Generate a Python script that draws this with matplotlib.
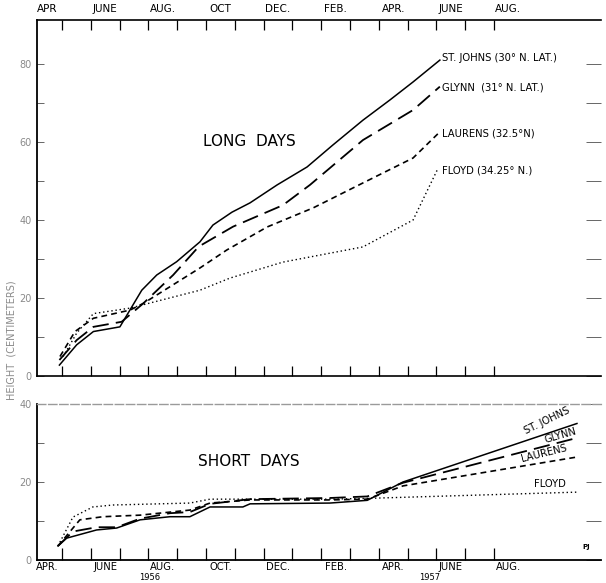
import matplotlib
matplotlib.use('Agg')
import matplotlib.pyplot as plt
from matplotlib.ticker import FixedLocator, NullFormatter, FixedFormatter

# x values are months since 1 April 1956
month_labels = ['APR.', 'JUNE', 'AUG.', 'OCT.', 'DEC.', 'FEB.', 'APR.', 'JUNE', 'AUG.']
top_labels = ['APR', 'JUNE', 'AUG.', 'OCT', 'DEC.', 'FEB.', 'APR.', 'JUNE', 'AUG.']
years = ['1956', '1957']

# ---- LONG DAYS (height, cm) ----
ld_stjohns_x = [0.91, 1.51, 2.09, 3.01, 3.77, 4.29, 4.98, 5.79, 6.24, 6.90, 7.53, 8.47, 9.51, 10.40, 11.45, 12.39, 13.19, 14.12]
ld_stjohns_y = [2.8, 8.0, 11.4, 12.6, 22.0, 25.9, 29.3, 34.4, 38.7, 42.0, 44.4, 49.0, 53.6, 59.2, 65.6, 70.8, 75.4, 81.0]
ld_glynn_x = [0.91, 1.51, 2.09, 3.07, 3.82, 4.86, 5.75, 6.94, 8.67, 9.61, 11.45, 13.19, 14.12]
ld_glynn_y = [4.1, 9.2, 12.6, 13.9, 18.6, 25.9, 33.2, 38.3, 43.8, 49.0, 60.5, 68.2, 74.2]
ld_laurens_x = [0.93, 1.45, 2.09, 3.36, 3.82, 5.79, 6.72, 8.12, 9.72, 11.45, 13.19, 14.12]
ld_laurens_y = [5.0, 11.4, 14.8, 16.9, 18.6, 27.7, 32.3, 38.2, 43.1, 49.5, 55.9, 62.6]
ld_floyd_x = [1.04, 1.51, 2.09, 3.36, 5.79, 6.83, 8.67, 11.45, 13.19, 14.06]
ld_floyd_y = [5.0, 11.0, 16.0, 17.4, 22.0, 25.1, 29.2, 33.1, 40.0, 53.3]

# ---- SHORT DAYS (height, cm) ----
sd_stjohns_x = [0.86, 1.16, 2.20, 2.90, 3.71, 4.75, 5.44, 6.14, 7.28, 7.53, 10.30, 11.60, 12.84, 18.88]
sd_stjohns_y = [3.6, 5.6, 7.7, 8.2, 10.3, 11.1, 11.1, 13.6, 13.6, 14.4, 14.6, 15.3, 20.0, 35.0]
sd_glynn_x = [0.86, 1.38, 2.20, 2.90, 3.71, 4.75, 5.44, 6.14, 7.53, 10.30, 11.60, 12.84, 18.88]
sd_glynn_y = [3.6, 7.3, 8.4, 8.4, 10.6, 12.0, 12.3, 14.4, 15.6, 15.9, 16.3, 19.8, 31.3]
sd_laurens_x = [0.86, 1.62, 2.42, 3.71, 5.44, 6.14, 7.53, 10.30, 11.60, 12.84, 18.88]
sd_laurens_y = [3.6, 10.3, 11.1, 11.5, 12.8, 14.6, 15.4, 15.4, 15.6, 19.0, 26.4]
sd_floyd_x = [0.86, 1.38, 2.07, 2.77, 5.44, 6.14, 7.42, 10.30, 11.60, 18.88]
sd_floyd_y = [3.6, 11.0, 13.6, 14.1, 14.6, 15.6, 15.6, 15.6, 15.8, 17.4]

W, H = 606, 583
fig = plt.figure(figsize=(W / 100, H / 100), dpi=100)
fig.patch.set_facecolor('white')

L, R = 37, 601
m_per_px = 1 / 28.8
x0 = (L - 33.2) * m_per_px
x1 = (R - 33.2) * m_per_px

ax1 = fig.add_axes([L / W, 1 - 376 / H, (R - L) / W, (376 - 20) / H])
ax2 = fig.add_axes([L / W, 1 - 560 / H, (R - L) / W, (560 - 404) / H])

grey = '#8a8a8a'
styles = {
    'stjohns': dict(color='black', lw=1.1, ls='-'),
    'glynn': dict(color='black', lw=1.3, ls=(0, (9, 4))),
    'laurens': dict(color='black', lw=1.2, ls=(0, (3.5, 2.5))),
    'floyd': dict(color='black', lw=1.0, ls=(0, (1, 2))),
}

ax1.plot(ld_stjohns_x, ld_stjohns_y, **styles['stjohns'])
ax1.plot(ld_glynn_x, ld_glynn_y, **styles['glynn'])
ax1.plot(ld_laurens_x, ld_laurens_y, **styles['laurens'])
ax1.plot(ld_floyd_x, ld_floyd_y, **styles['floyd'])

ax2.plot(sd_stjohns_x, sd_stjohns_y, **styles['stjohns'])
ax2.plot(sd_glynn_x, sd_glynn_y, **styles['glynn'])
ax2.plot(sd_laurens_x, sd_laurens_y, **styles['laurens'])
ax2.plot(sd_floyd_x, sd_floyd_y, **styles['floyd'])

ax1.set_xlim(x0, x1)
ax2.set_xlim(x0, x1)
ax1.set_ylim(0, (376 - 20) / 3.9)
ax2.set_ylim(0, 40)

month_ticks = list(range(1, 17))
mid_ticks = [0.5 + 2 * i for i in range(9)]

for ax in (ax1, ax2):
    ax.spines['right'].set_visible(False)
    ax.spines['left'].set_linewidth(1.3)
    ax.xaxis.set_major_locator(FixedLocator(month_ticks))
    ax.xaxis.set_major_formatter(NullFormatter())
    ax.xaxis.set_minor_locator(FixedLocator(mid_ticks))

# upper panel x ticks
ax1.spines['top'].set_linewidth(1.2)
ax1.spines['bottom'].set_linewidth(1.2)
ax1.tick_params(axis='x', which='major', top=True, bottom=True, direction='in',
                length=7, width=0.9, labelbottom=False, labeltop=False)
ax1.tick_params(axis='x', which='minor', top=True, bottom=False, length=0,
                labeltop=True, labelbottom=False, pad=4, labelsize=7.5)
ax1.xaxis.set_minor_formatter(FixedFormatter(top_labels))

# lower panel x ticks
ax2.spines['top'].set_color('#9a9a9a')
ax2.spines['top'].set_linestyle((0, (6, 2)))
ax2.spines['top'].set_linewidth(1.0)
ax2.spines['bottom'].set_linewidth(1.3)
ax2.tick_params(axis='x', which='major', top=False, bottom=True, direction='in',
                length=9, width=0.9, labelbottom=False)
ax2.tick_params(axis='x', which='minor', top=False, bottom=True, length=0,
                labelbottom=True, pad=1.5, labelsize=7.2)
ax2.xaxis.set_minor_formatter(FixedFormatter(month_labels))

# y ticks
ax1.set_yticks([0, 20, 40, 60, 80])
ax1.set_yticks([10, 30, 50, 70], minor=True)
ax2.set_yticks([0, 20, 40])
ax2.set_yticks([10, 30], minor=True)
for ax in (ax1, ax2):
    ax.tick_params(axis='y', which='both', left=True, right=True, direction='in',
                   length=5, width=0.7, color='#666666', labelsize=7,
                   labelcolor=grey, pad=4)
    for t in ax.yaxis.get_major_ticks() + ax.yaxis.get_minor_ticks():
        t.tick1line.set_markersize(5)
        t.tick2line.set_markersize(11)

# texts
fig.text(249 / W, 1 - 141 / H, 'LONG  DAYS', ha='center', va='center', fontsize=11)
fig.text(249 / W, 1 - 462 / H, 'SHORT  DAYS', ha='center', va='center', fontsize=11)

lab = dict(fontsize=7.2, ha='left', va='center')
ax1.text(14.2, 81.5, 'ST. JOHNS (30° N. LAT.)', **lab)
ax1.text(14.2, 74.1, 'GLYNN  (31° N. LAT.)', **lab)
ax1.text(14.2, 62.3, 'LAURENS (32.5°N)', **lab)
ax1.text(14.2, 52.8, 'FLOYD (34.25° N.)', **lab)

ax2.text(17.84, 35.6, 'ST. JOHNS', fontsize=7.2, rotation=26, ha='center', va='center')
ax2.text(18.3, 31.9, 'GLYNN', fontsize=7.2, rotation=16, ha='center', va='center')
ax2.text(17.75, 27.4, 'LAURENS', fontsize=7.2, rotation=14, ha='center', va='center')
ax2.text(17.95, 19.4, 'FLOYD', fontsize=7.2, ha='center', va='center')
ax2.text(19.2, 3.3, 'PJ', fontsize=5, fontweight='bold', ha='center', va='center')

fig.text(150 / W, 1 - 582.5 / H, years[0], ha='center', va='bottom', fontsize=6)
fig.text(430 / W, 1 - 582.5 / H, years[1], ha='center', va='bottom', fontsize=6)

fig.text(12 / W, 1 - 340 / H, 'HEIGHT  (CENTIMETERS)', rotation=90, ha='center',
         va='center', fontsize=7, color=grey)

fig.savefig('out.png', dpi=100, facecolor='white')
